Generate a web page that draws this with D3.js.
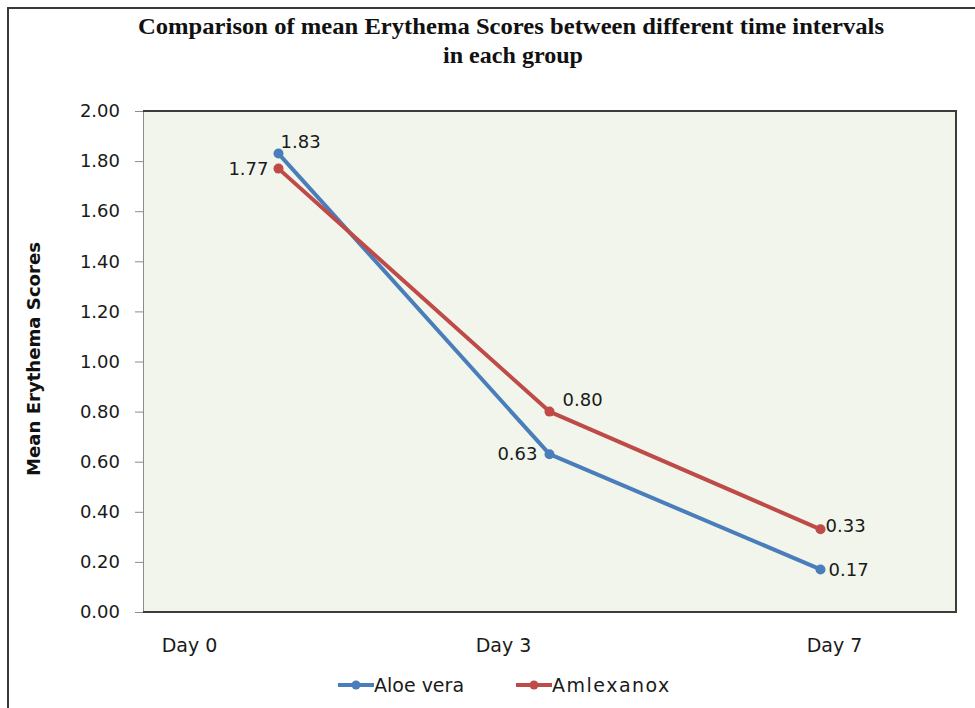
<!DOCTYPE html>
<html>
<head>
<meta charset="utf-8">
<script src="https://cdn.jsdelivr.net/npm/d3@7"></script>
<style>
  body { margin: 0; background: #fff; }
  svg { display: block; }
</style>
</head>
<body>
<svg></svg>
<script>
// chart values
const days = ['Day 0', 'Day 3', 'Day 7']
const aloeVera = [1.83, 0.63, 0.17]
const amlexanox = [1.77, 0.80, 0.33]
const yTicks = [0, 0.2, 0.4, 0.6, 0.8, 1.0, 1.2, 1.4, 1.6, 1.8, 2.0]

// label offsets (dx, dy) for each data label, as placed in the original
const series = [
  { name: 'Aloe vera', values: aloeVera, color: '#4a7ebb', offsets: [[2, -12], [-12, 0], [8, 0]], spacing: 0 },
  { name: 'Amlexanox', values: amlexanox, color: '#be4b48', offsets: [[-10, 0], [13, -12], [5, -4]], spacing: 1.5 }
]

const width = 975
const height = 708
const margin = { top: 111, right: 19, bottom: 96, left: 143 }

const svg = d3.select('svg')
  .attr('width', width)
  .attr('height', height)

// outer frame (only top and left edges visible in the picture)
svg.append('path')
  .attr('d', `M8,${height}V8H${width}`)
  .attr('fill', 'none')
  .attr('stroke', '#3a3a3a')
  .attr('stroke-width', 2)

const x = d3.scaleBand()
  .domain(days)
  .range([margin.left, width - margin.right])

// the category labels sit off the point positions in the original
const xLabel = d3.scaleOrdinal()
  .domain(days)
  .range([189, 503, 834])

const y = d3.scaleLinear()
  .domain([0, 2])
  .range([height - margin.bottom, margin.top])

// plot background
svg.append('rect')
  .attr('x', margin.left)
  .attr('y', margin.top)
  .attr('width', width - margin.left - margin.right)
  .attr('height', height - margin.top - margin.bottom)
  .attr('fill', '#f2f5eb')

// y axis
svg.append('g')
  .attr('transform', `translate(${margin.left},0)`)
  .call(d3.axisLeft(y).tickValues(yTicks).tickFormat(d3.format('.2f')).tickSize(8).tickPadding(15))
  .call(g => g.select('.domain').attr('stroke', '#8c8c8c'))
  .call(g => g.selectAll('.tick line').attr('stroke', '#8c8c8c'))
  .call(g => g.selectAll('.tick text')
    .attr('font-family', 'DejaVu Sans, Verdana, sans-serif')
    .attr('font-size', 18)
    .attr('fill', '#1a1a1a'))

// plot border: top, right, bottom dark
svg.append('path')
  .attr('d', `M${margin.left},${margin.top}H${width - margin.right}V${height - margin.bottom}H${margin.left}`)
  .attr('fill', 'none')
  .attr('stroke', '#3c3c3c')
  .attr('stroke-width', 2)

// x labels
svg.append('g')
  .attr('transform', `translate(0,${height - margin.bottom})`)
  .call(d3.axisBottom(xLabel).tickValues(days).tickSize(0).tickPadding(27))
  .call(g => g.select('.domain').remove())
  .call(g => g.selectAll('.tick text')
    .attr('font-family', 'DejaVu Sans, sans-serif')
    .attr('font-size', 19)
    .attr('fill', '#1a1a1a'))

const line = d3.line()
  .x((d, i) => x(days[i]) + x.bandwidth() / 2)
  .y(d => y(d))

series.forEach(s => {
  const g = svg.append('g')
  g.append('path')
    .datum(s.values)
    .attr('d', line)
    .attr('fill', 'none')
    .attr('stroke', s.color)
    .attr('stroke-width', 4)
    .attr('stroke-linejoin', 'round')
  g.selectAll('circle')
    .data(s.values)
    .enter().append('circle')
    .attr('cx', (d, i) => x(days[i]) + x.bandwidth() / 2)
    .attr('cy', d => y(d))
    .attr('r', 5)
    .attr('fill', s.color)
  g.selectAll('text')
    .data(s.values)
    .enter().append('text')
    .attr('x', (d, i) => x(days[i]) + x.bandwidth() / 2 + s.offsets[i][0])
    .attr('y', (d, i) => y(d) + s.offsets[i][1])
    .attr('dy', '0.35em')
    .attr('text-anchor', (d, i) => s.offsets[i][0] > 0 ? 'start' : 'end')
    .attr('font-family', 'DejaVu Sans, Verdana, sans-serif')
    .attr('font-size', 18)
    .attr('fill', '#1a1a1a')
    .text(d => d3.format('.2f')(d))
})

// title
const title = svg.append('text')
  .attr('text-anchor', 'middle')
  .attr('font-family', 'Liberation Serif, Times New Roman, serif')
  .attr('font-weight', 'bold')
  .attr('font-size', 23)
  .attr('fill', '#111')
title.append('tspan')
  .attr('x', 511).attr('y', 34)
  .attr('textLength', 746).attr('lengthAdjust', 'spacingAndGlyphs')
  .text('Comparison  of mean  Erythema  Scores between  different  time  intervals')
title.append('tspan')
  .attr('x', 513).attr('y', 63)
  .attr('textLength', 140).attr('lengthAdjust', 'spacingAndGlyphs')
  .text('in each  group')

// y axis title
svg.append('text')
  .attr('transform', `translate(40,${y(1.01)}) rotate(-90)`)
  .attr('text-anchor', 'middle')
  .attr('font-family', 'DejaVu Sans Condensed, DejaVu Sans, sans-serif')
  .attr('font-weight', 'bold')
  .attr('font-size', 18)
  .attr('textLength', 234).attr('lengthAdjust', 'spacingAndGlyphs')
  .attr('fill', '#111')
  .text('Mean  Erythema  Scores')

// legend
const legend = svg.append('g')
  .attr('transform', `translate(338,685)`)
const legendX = d3.scalePoint().domain(series.map(s => s.name)).range([0, 178])
series.forEach(s => {
  const item = legend.append('g').attr('transform', `translate(${legendX(s.name)},0)`)
  item.append('line')
    .attr('x1', 0).attr('x2', 36)
    .attr('stroke', s.color).attr('stroke-width', 4)
  item.append('circle')
    .attr('cx', 18).attr('r', 4.5).attr('fill', s.color)
  item.append('text')
    .attr('x', 36).attr('dy', '0.35em')
    .attr('font-family', 'DejaVu Sans, sans-serif')
    .attr('font-size', 19)
    .attr('letter-spacing', s.spacing)
    .attr('fill', '#1a1a1a')
    .text(s.name)
})
</script>
</body>
</html>
